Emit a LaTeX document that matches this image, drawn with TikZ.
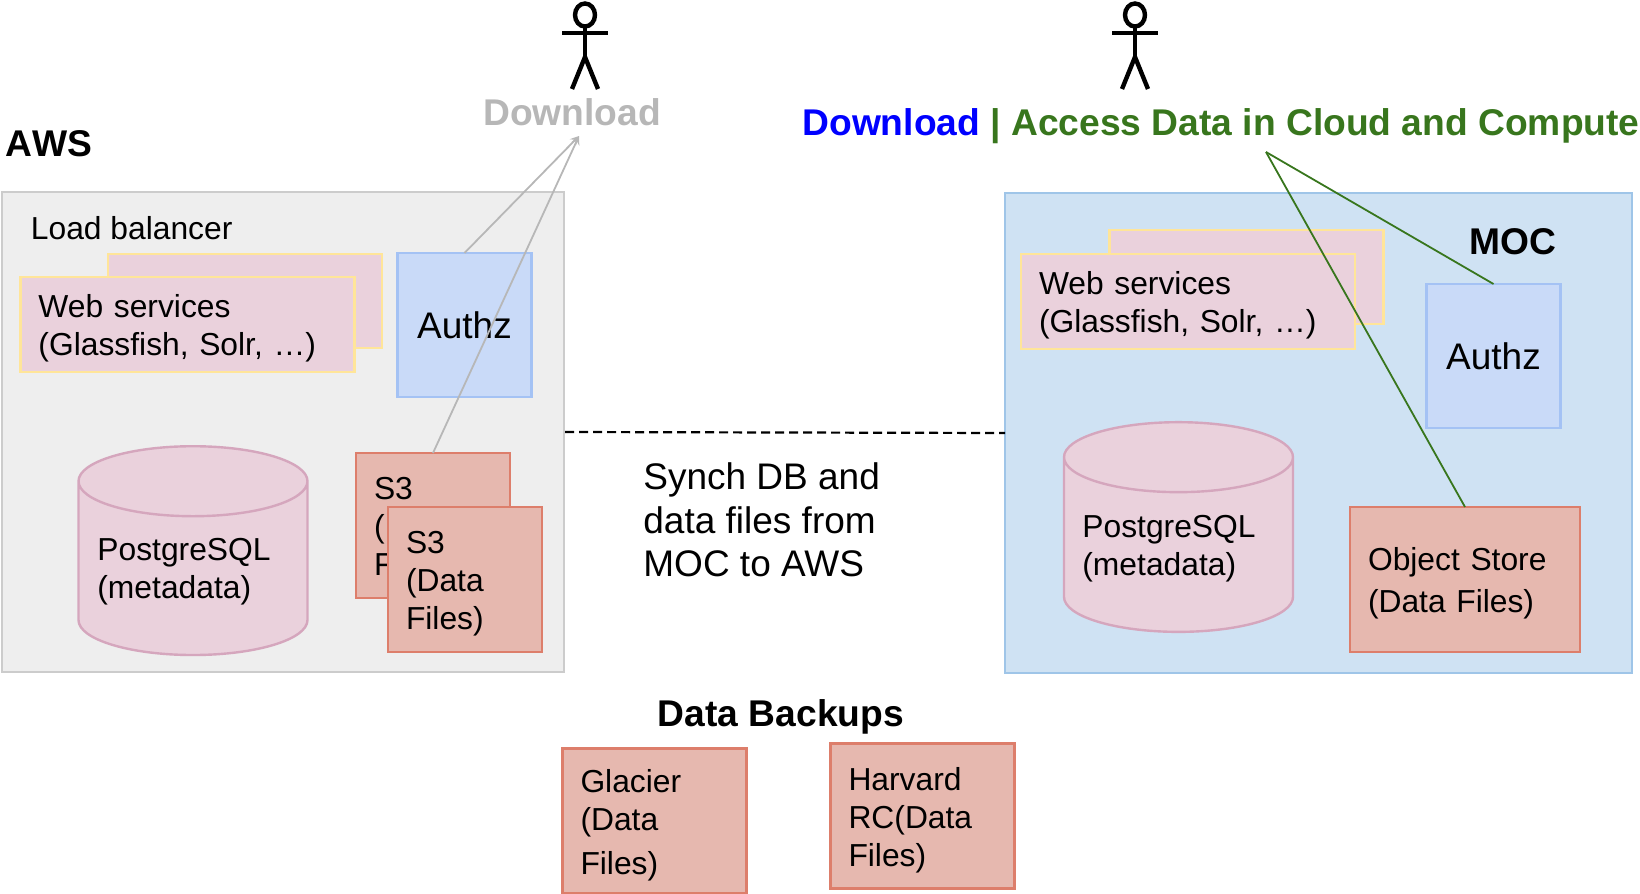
\documentclass[tikz,border=0pt]{standalone}
\usepackage{fontspec}
\setmainfont{Liberation Sans}
\usetikzlibrary{shapes.geometric, arrows}
\definecolor{webfill}{HTML}{EAD1DC}
\definecolor{webline}{HTML}{FFE599}
\definecolor{authzfill}{HTML}{C9DAF8}
\definecolor{authzline}{HTML}{A4C2F4}
\definecolor{filefill}{HTML}{E6B8AF}
\definecolor{fileline}{HTML}{DD7E6B}
\definecolor{dbline}{HTML}{D5A6BD}
\definecolor{awsfill}{HTML}{EEEEEE}
\definecolor{awsline}{HTML}{CCCCCC}
\definecolor{mocfill}{HTML}{CFE2F3}
\definecolor{mocline}{HTML}{9FC5E8}
\definecolor{dlgrey}{HTML}{B7B7B7}
\definecolor{accessgreen}{HTML}{38761D}
\newcommand{\smallfont}{\fontsize{15.9}{19}\selectfont}
\newcommand{\bigfont}{\fontsize{18.5}{21.7}\selectfont}
\newcommand{\headfont}{\fontsize{18.6}{21.7}\selectfont\bfseries}
\newcommand{\firstline}{\rule{0pt}{15.5pt}}
\tikzstyle{region} = [rectangle, outer sep=0pt, line width=1.2pt]
\tikzstyle{web} = [rectangle, outer sep=0pt, line width=1.2pt, inner xsep=9pt, minimum height=47.5pt, text width=149pt, align=left, font=\smallfont, fill=webfill, draw=webline]
\tikzstyle{webback} = [rectangle, outer sep=0pt, line width=1.2pt, minimum width=137pt, minimum height=47pt, fill=webfill, draw=webline]
\tikzstyle{authz} = [rectangle, outer sep=0pt, line width=1.2pt, minimum width=67pt, minimum height=72pt, font=\bigfont, fill=authzfill, draw=authzline]
\tikzstyle{files} = [rectangle, outer sep=0pt, line width=1.05pt, inner xsep=9pt, minimum height=72.5pt, align=left, font=\smallfont, fill=filefill, draw=fileline]
\tikzstyle{db} = [cylinder, shape border rotate=90, aspect=5.25, outer sep=0pt, line width=1.2pt, minimum width=114.5pt, fill=webfill, draw=dbline]
\tikzstyle{label} = [inner sep=0pt, anchor=base west, align=left, font=\smallfont]
\tikzstyle{head} = [inner sep=0pt, anchor=base, font=\headfont]
\tikzstyle{person} = [line width=2.2pt]
\tikzstyle{dlarrow} = [line width=0.9pt, draw=dlgrey, ->, >=stealth]
\tikzstyle{accessline} = [line width=0.9pt, draw=accessgreen]
\begin{document}
\begin{tikzpicture}[x=0.5pt, y=-0.5pt]
            \useasboundingbox (0,0) rectangle (1640,894);

            \node [region, fill=awsfill, draw=awsline, minimum width=281pt, minimum height=240pt] at (283,432) (aws) {};
            \node [region, fill=mocfill, draw=mocline, minimum width=313.5pt, minimum height=240pt] at (1318.5,433) (moc) {};

            \node [head, anchor=base west] at (5,156) (awstitle) {A\kern0pt W\kern0pt S};
            \node [label] at (30.5,239) (lb) {Load balancer};
            \node [head, anchor=base west] at (1469,254) (moctitle) {MOC};

            % aws side
            \node [webback] at (245,301) (webawsback) {};
            \node [web] at (187.5,324.5) (webaws) {\firstline Web services\\(Glassfish, Solr, \dots)};
            \node [authz] at (464.5,325) (authzaws) {Authz};
            \node [db, minimum height=104.4pt] at (193,574.6) (dbaws) {};
            \node [label] at (97,598) (dbawstext) {PostgreSQL\\(metadata)};
            \node [files, text width=59pt] at (433,525.5) (s3back) {\firstline S3\\(Data\\Files)};
            \node [files, text width=59pt] at (465,579.5) (s3front) {\firstline S3\\(Data\\Files)};

            % moc side
            \node [webback] at (1246.5,277) (webmocback) {};
            \node [web] at (1188,301.5) (webmoc) {\firstline Web services\\(Glassfish, Solr, \dots)};
            \node [authz] at (1493.5,356) (authzmoc) {Authz};
            \node [db, minimum height=104.85pt] at (1178.5,551) (dbmoc) {};
            \node [label] at (1082,575) (dbmoctext) {PostgreSQL\\(metadata)};
            \node [files, text width=97pt] at (1465,579.5) (objstore) {\firstline Object Store\\[2pt](Data Files)};

            % backups
            \node [head] at (781,726) (backups) {Data Backups};
            \node [files, text width=74pt] at (654.5,821) (glacier) {\firstline Glacier\\(Data\\[3pt]Files)};
            \node [files, text width=74pt] at (922.5,816) (harvard) {\firstline Harvard\\RC(Data\\Files)};

            % synch
            \coordinate (synchleft) at (565,432);
            \coordinate (synchright) at (1005,433);
            \draw [dash pattern=on 4.5pt off 2.5pt, line width=1.1pt] (synchleft) -- (synchright);
            \node [label, font=\bigfont] at (643,576.5) (synch) {Synch DB and\\data files from\\MOC to AWS};

            % users
            \foreach \px in {585,1135} {
                \draw [person] (\px,15) ellipse [x radius=10, y radius=11.5];
                \draw [person] (\px,26.5) -- (\px,57);
                \draw [person] (\px-23,33) -- (\px+23,33);
                \draw [person] (\px-13,89) -- (\px,57) -- (\px+13,89);
            }
            \node [head, text=dlgrey] at (572,125) (dlaws) {Download};
            \node [head, anchor=base east] at (1640,135) (access) {\textcolor{blue}{Download} \textcolor{accessgreen}{| Access Data in Cloud and Compute}};

            \coordinate (dlawstip) at (579,136);
            \coordinate (accesstip) at (1266,152);
            \draw [dlarrow] (authzaws.north) -- (dlawstip);
            \draw [dlarrow] (s3back.north) -- (dlawstip);
            \draw [accessline] (authzmoc.north) -- (accesstip);
            \draw [accessline] (objstore.north) -- (accesstip);
            \end{tikzpicture}
\end{document}
